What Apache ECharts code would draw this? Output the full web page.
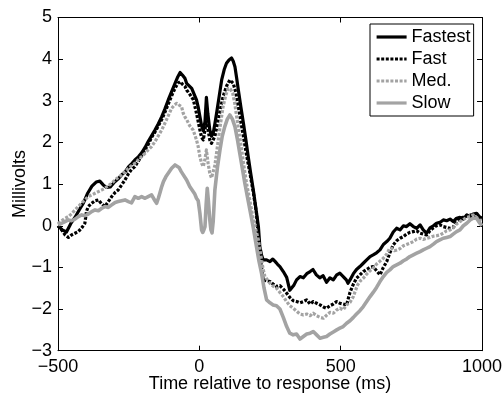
<!DOCTYPE html>
<html>
<head>
<meta charset="utf-8">
<script src="https://cdn.jsdelivr.net/npm/echarts@6/dist/echarts.min.js"></script>
<style>
  html, body { margin: 0; padding: 0; background: #fff; }
  #chart { width: 504px; height: 395px; }
</style>
</head>
<body>
<div id="chart"></div>
<script>
// Grand-average waveforms (mV) by response-speed group, time-locked to the response.
const seriesNames = ['Fastest', 'Fast', 'Med.', 'Slow'];

const fastestT = [-500,-485,-470,-455,-440,-425,-410,-395,-380,-365,-352,-340,-328,-315,-300,-288,-275,-262,-250,-238,-228,-215,-204,-192,-181,-170,-157,-145,-133,-122,-110,-98,-86,-76,-68,-60,-51,-45,-38,-27,-21,-10,-4,2,8,14,20,25,30,37,43,49,55,61,70,79,88,96,105,114,120,126,132,138,147,156,165,173,182,191,200,209,214,220,226,238,250,260,267,276,285,297,309,320,327,335,344,356,368,380,392,402,414,426,438,450,462,474,486,497,509,520,526,533,545,556,568,580,592,604,615,627,639,651,663,674,686,698,710,722,733,745,757,769,781,792,804,816,828,839,851,863,875,887,898,910,922,934,946,958,969,981,990,1000];
const fastestV = [0.0,-0.1,-0.15,0.05,0.2,0.38,0.55,0.78,0.95,1.05,1.07,0.98,0.92,0.93,1.05,1.12,1.22,1.3,1.42,1.5,1.58,1.66,1.75,1.88,2.02,2.15,2.3,2.45,2.62,2.8,3.02,3.22,3.42,3.58,3.68,3.62,3.54,3.42,3.4,3.3,3.26,3.02,2.85,2.62,2.4,2.28,2.5,3.08,2.7,2.3,2.15,2.22,2.45,2.7,3.1,3.5,3.75,3.9,3.98,4.03,3.95,3.82,3.55,3.26,2.85,2.46,2.05,1.66,1.25,0.86,0.42,-0.02,-0.5,-0.7,-0.82,-0.82,-0.86,-0.8,-0.85,-0.92,-0.98,-1.1,-1.24,-1.55,-1.58,-1.42,-1.3,-1.22,-1.25,-1.15,-1.1,-1.05,-1.18,-1.25,-1.2,-1.36,-1.25,-1.3,-1.18,-1.14,-1.22,-1.3,-1.38,-1.3,-1.15,-1.05,-0.98,-0.9,-0.82,-0.74,-0.7,-0.65,-0.58,-0.45,-0.38,-0.3,-0.15,-0.06,-0.1,0.0,-0.02,0.05,-0.02,-0.06,0.02,-0.1,-0.18,-0.05,0.0,0.06,0.08,0.14,0.12,0.16,0.1,0.18,0.2,0.16,0.26,0.22,0.28,0.3,0.22,0.18];

const fastT = [-500,-487,-475,-463,-452,-440,-428,-416,-405,-399,-393,-381,-369,-357,-345,-334,-322,-310,-298,-287,-275,-263,-251,-240,-228,-216,-204,-192,-181,-169,-157,-145,-133,-122,-110,-98,-86,-76,-68,-60,-51,-45,-33,-21,-10,2,8,14,20,25,31,37,43,49,55,61,67,76,84,96,108,114,120,129,138,147,156,167,179,191,202,208,214,220,226,238,250,261,273,285,297,309,320,332,344,356,368,380,392,403,415,427,439,450,462,474,486,497,509,521,533,545,556,568,580,592,604,615,627,639,651,663,674,686,698,710,722,733,745,757,769,781,792,804,816,828,839,851,863,875,887,898,910,922,934,946,958,969,981,990,1000];
const fastV = [0.0,-0.1,-0.22,-0.28,-0.22,-0.18,-0.14,-0.05,0.06,0.35,0.46,0.54,0.6,0.62,0.52,0.46,0.58,0.7,0.8,0.86,0.98,1.1,1.25,1.35,1.42,1.55,1.68,1.82,1.95,2.12,2.25,2.4,2.55,2.72,2.92,3.12,3.3,3.42,3.46,3.4,3.35,3.26,3.15,3.02,2.7,2.3,2.12,2.06,2.3,2.54,2.3,2.06,1.98,2.0,2.15,2.35,2.54,2.85,3.1,3.35,3.5,3.48,3.42,3.2,2.86,2.5,2.14,1.7,1.26,0.8,0.3,-0.2,-0.66,-1.0,-1.3,-1.32,-1.34,-1.4,-1.46,-1.44,-1.52,-1.62,-1.72,-1.8,-1.82,-1.85,-1.82,-1.78,-1.88,-1.82,-1.86,-1.9,-1.95,-1.98,-1.92,-1.88,-1.82,-1.86,-1.88,-1.9,-1.6,-1.4,-1.26,-1.18,-1.1,-1.05,-1.0,-0.98,-1.08,-1.18,-1.0,-0.86,-0.65,-0.46,-0.36,-0.3,-0.26,-0.2,-0.16,-0.14,-0.12,-0.18,-0.2,-0.22,-0.12,-0.05,0.0,0.02,-0.02,-0.04,-0.06,-0.04,0.1,0.18,0.2,0.24,0.26,0.22,0.18,0.14,0.1];

const medT = [-500,-487,-475,-463,-450,-440,-428,-416,-405,-393,-381,-369,-357,-345,-334,-322,-310,-298,-287,-275,-263,-251,-240,-228,-216,-204,-192,-181,-169,-157,-145,-133,-122,-110,-98,-88,-80,-72,-63,-57,-50,-45,-34,-22,-10,-4,2,8,14,20,25,31,37,43,49,55,61,67,75,84,93,102,110,118,125,132,141,150,158,167,179,191,200,209,215,220,226,232,241,250,261,273,285,297,309,320,332,344,356,368,380,392,403,415,427,439,450,462,474,486,497,509,521,533,545,551,560,570,580,592,604,615,627,639,651,663,672,680,690,700,710,722,733,745,757,769,781,792,804,816,828,839,851,863,875,887,898,910,922,934,946,958,969,981,990,1000];
const medV = [0.05,0.12,0.18,0.22,0.3,0.38,0.46,0.55,0.62,0.7,0.74,0.78,0.82,0.86,0.9,0.96,1.02,1.1,1.16,1.22,1.3,1.38,1.44,1.5,1.58,1.66,1.74,1.82,1.9,2.02,2.16,2.3,2.46,2.64,2.82,2.9,2.94,2.9,2.86,2.7,2.6,2.55,2.4,2.3,2.06,1.9,1.66,1.5,1.42,1.6,1.82,1.5,1.26,1.15,1.18,1.45,1.75,2.06,2.45,2.86,3.12,3.3,3.28,3.18,2.95,2.62,2.22,1.82,1.42,1.02,0.6,0.14,-0.1,-0.34,-0.6,-0.82,-1.05,-1.22,-1.3,-1.38,-1.45,-1.5,-1.6,-1.7,-1.82,-1.92,-1.98,-2.05,-2.12,-2.14,-2.12,-2.16,-2.1,-2.16,-2.2,-2.22,-2.15,-2.08,-2.1,-2.02,-1.98,-2.02,-1.9,-1.84,-1.7,-1.58,-1.42,-1.32,-1.26,-1.16,-1.08,-1.02,-0.92,-0.85,-0.78,-0.68,-0.56,-0.54,-0.6,-0.58,-0.55,-0.48,-0.45,-0.42,-0.38,-0.32,-0.3,-0.33,-0.3,-0.28,-0.25,-0.24,-0.22,-0.18,-0.12,-0.1,-0.05,0.04,0.1,0.15,0.2,0.22,0.26,0.2,0.14,0.12];

const slowT = [-500,-487,-475,-463,-452,-440,-428,-416,-405,-393,-381,-369,-357,-345,-334,-322,-310,-298,-287,-275,-263,-251,-240,-228,-216,-204,-192,-181,-169,-157,-151,-145,-139,-133,-127,-118,-110,-98,-86,-80,-72,-64,-57,-45,-34,-27,-16,-10,-4,2,8,12,16,20,24,28,32,37,41,45,49,55,64,73,81,90,99,108,117,126,134,143,152,161,170,179,191,202,211,220,229,238,250,261,273,285,297,309,320,332,344,356,368,380,392,403,415,427,439,450,462,474,486,497,509,521,533,545,556,568,580,592,604,615,627,639,651,663,674,686,698,710,722,733,745,757,769,781,792,804,816,828,839,851,863,875,887,898,910,922,934,946,958,969,981,990,1000];
const slowV = [0.02,0.06,0.1,0.14,0.12,0.16,0.22,0.26,0.24,0.28,0.34,0.38,0.36,0.42,0.46,0.44,0.5,0.56,0.58,0.6,0.62,0.58,0.55,0.7,0.66,0.7,0.66,0.7,0.74,0.6,0.54,0.66,0.8,0.94,1.06,1.18,1.26,1.38,1.46,1.48,1.4,1.3,1.26,1.1,0.94,0.9,0.76,0.66,0.6,0.3,-0.1,-0.16,-0.1,-0.02,0.5,0.9,0.6,0.14,-0.1,-0.17,0.1,0.86,1.4,1.82,2.15,2.38,2.56,2.66,2.56,2.38,2.1,1.74,1.38,1.02,0.7,0.38,-0.05,-0.5,-0.85,-1.14,-1.5,-1.78,-1.85,-1.9,-1.92,-2.0,-2.2,-2.42,-2.58,-2.62,-2.6,-2.72,-2.66,-2.6,-2.58,-2.54,-2.62,-2.7,-2.68,-2.66,-2.6,-2.55,-2.5,-2.46,-2.42,-2.34,-2.28,-2.2,-2.12,-2.04,-1.94,-1.82,-1.7,-1.6,-1.48,-1.34,-1.22,-1.12,-1.06,-0.98,-0.94,-0.9,-0.84,-0.8,-0.74,-0.7,-0.66,-0.62,-0.58,-0.54,-0.5,-0.44,-0.38,-0.34,-0.3,-0.28,-0.26,-0.2,-0.14,-0.1,0.0,0.06,0.14,0.18,0.18,0.08,0.0];

const xTicks = [-500, 0, 500, 1000];
const yTicks = [-3, -2, -1, 0, 1, 2, 3, 4, 5];

const FONT = 'Liberation Sans, Arial, Helvetica, sans-serif';
const FS = 18;
const BLACK = '#000000';
const GREY = '#a3a3a3';

function pairs(ts, vs) { return ts.map((t, i) => [t, vs[i]]); }
function minus(v) { return String(v).replace('-', '\u2212'); }

const styles = [
  { color: BLACK, width: 3.2, type: 'solid' },
  { color: BLACK, width: 3.2, type: [3, 1.6] },
  { color: GREY, width: 3.2, type: [3, 1.6] },
  { color: GREY, width: 3.6, type: 'solid' }
];
const dataSets = [pairs(fastestT, fastestV), pairs(fastT, fastV), pairs(medT, medV), pairs(slowT, slowV)];

// Fixed plot box; labels sit outside it, so no automatic shrinking.
const grid = { left: 58, right: 22, top: 17.5, bottom: 44.3, outerBoundsMode: 'none', containLabel: false };
const axisCommon = {
  type: 'value',
  axisLine: { show: true, onZero: false, lineStyle: { color: '#000', width: 1 } },
  axisTick: { show: true, inside: true, length: 5, lineStyle: { color: '#000', width: 1 } },
  splitLine: { show: false }
};

const chart = echarts.init(document.getElementById('chart'), null, { renderer: 'canvas' });
chart.setOption({
  animation: false,
  backgroundColor: '#fff',
  grid: grid,
  legend: {
    data: seriesNames,
    orient: 'vertical',
    left: 370,
    top: 24,
    backgroundColor: '#fff',
    borderColor: '#000',
    borderWidth: 1,
    borderRadius: 0,
    padding: [4, 3, 4, 5],
    itemWidth: 30,
    itemHeight: 14,
    itemGap: 4,
    itemStyle: { color: 'rgba(0,0,0,0)', borderColor: 'rgba(0,0,0,0)', borderWidth: 0 },
    lineStyle: { width: 3.2 },
    textStyle: { fontFamily: FONT, fontSize: FS, color: '#000', lineHeight: 18 }
  },
  xAxis: [
    Object.assign({}, axisCommon, {
      min: -500, max: 1000, interval: 500, position: 'bottom',
      name: 'Time relative to response (ms)',
      nameLocation: 'middle', nameGap: 24, nameMoveOverlap: false,
      nameTextStyle: { fontFamily: FONT, fontSize: FS, color: '#000' },
      axisLabel: { fontFamily: FONT, fontSize: FS, color: '#000', margin: 7,
        formatter: v => xTicks.includes(v) ? minus(v) : '' }
    }),
    Object.assign({}, axisCommon, {
      min: -500, max: 1000, interval: 500, position: 'top',
      axisLabel: { show: false }
    })
  ],
  yAxis: [
    Object.assign({}, axisCommon, {
      min: -3, max: 5, interval: 1, position: 'left',
      name: 'Millivolts',
      nameLocation: 'middle', nameGap: 29, nameMoveOverlap: false,
      nameTextStyle: { fontFamily: FONT, fontSize: FS, color: '#000' },
      axisLabel: { fontFamily: FONT, fontSize: FS, color: '#000', margin: 6,
        formatter: v => yTicks.includes(v) ? minus(v) : '' }
    }),
    Object.assign({}, axisCommon, {
      min: -3, max: 5, interval: 1, position: 'right',
      axisLabel: { show: false }
    })
  ],
  series: seriesNames.map((name, i) => ({
    name: name,
    type: 'line',
    xAxisIndex: 0,
    yAxisIndex: 0,
    data: dataSets[i],
    showSymbol: false,
    symbol: 'none',
    smooth: false,
    lineStyle: { color: styles[i].color, width: styles[i].width, type: styles[i].type, join: 'round' },
    itemStyle: { color: styles[i].color },
    z: 2 + i
  }))
});
</script>
</body>
</html>
